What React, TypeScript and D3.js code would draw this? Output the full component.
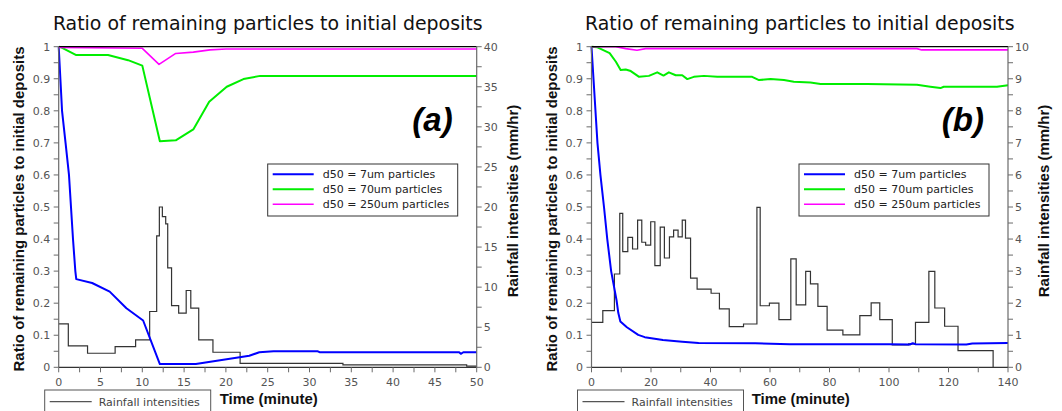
import React from "react";
import * as d3 from "d3";

// ---------- DATA ----------
const titleText = "Ratio of remaining particles to initial deposits";
const yLeftLabel = "Ratio of remaining particles to initial deposits";
const yRightLabel = "Rainfall intensities (mm/hr)";
const xLabel = "Time (minute)";
const seriesNames = ["d50 = 7um particles", "d50 = 70um particles", "d50 = 250um particles"];
const rainName = "Rainfall intensities";
const panelTags = ["(a)", "(b)"];

// Panel (a)
const a7x = [0, 0.2, 0.4, 0.82, 1.23, 1.47, 1.71, 1.99, 2.1, 4.0, 6.1, 8.1, 10.1, 12.1, 16.4, 22.8, 24.0, 25.7, 31.0, 31.2, 47.9, 48.1, 48.4, 50];
const a7y = [1, 0.9, 0.8, 0.7, 0.6, 0.5, 0.4, 0.3, 0.275, 0.263, 0.236, 0.184, 0.146, 0.01, 0.01, 0.036, 0.047, 0.05, 0.05, 0.047, 0.047, 0.042, 0.047, 0.047];
const a70x = [0, 0.3, 2.1, 5.9, 8.3, 10.0, 12.1, 14.0, 16.1, 18.0, 20.1, 22.1, 24.1, 50];
const a70y = [1, 0.998, 0.974, 0.974, 0.958, 0.941, 0.705, 0.708, 0.742, 0.828, 0.875, 0.899, 0.909, 0.909];
const a250x = [0, 10.0, 12.0, 14.0, 16.1, 18.1, 20, 50];
const a250y = [0.998, 0.995, 0.945, 0.979, 0.983, 0.99, 0.993, 0.993];
const aRainX = [0, 1.15, 3.45, 6.75, 9.2, 10.88, 11.72, 12.04, 12.4, 12.8, 13.04, 13.5, 14.35, 15.25, 15.8, 16.75, 18.45, 21.7, 34.0, 48.8, 50];
const aRainV = [5.42, 2.67, 1.75, 2.58, 3.42, 6.96, 16.4, 20.0, 18.8, 17.9, 12.4, 7.7, 6.75, 9.58, 7.38, 3.42, 1.88, 0.5, 0.3, 0.15, 0.15];

// Panel (b)
const b7x = [0, 0.67, 2, 3, 4.2, 5.3, 6.6, 7.6, 8.4, 9.0, 9.7, 11.9, 15.7, 17.9, 24, 30.5, 36, 55, 66.6, 100, 107, 108, 109, 126, 128, 140];
const b7y = [1, 0.9, 0.7, 0.6, 0.5, 0.4, 0.3, 0.25, 0.21, 0.17, 0.143, 0.125, 0.101, 0.094, 0.085, 0.08, 0.076, 0.075, 0.072, 0.072, 0.071, 0.075, 0.072, 0.071, 0.074, 0.076];
const b70x = [0, 2.0, 6.1, 8.2, 9.8, 11.5, 13.2, 16.0, 19.3, 22.1, 24.2, 26.0, 28.3, 30.5, 32.2, 34.4, 37.8, 42.3, 54.0, 56.3, 60.2, 64.7, 68.0, 73.6, 77.0, 92.6, 98.2, 109.4, 113.9, 117.3, 118.4, 136.3, 140];
const b70y = [1, 0.998, 0.98, 0.953, 0.927, 0.929, 0.924, 0.906, 0.909, 0.92, 0.91, 0.92, 0.911, 0.911, 0.899, 0.906, 0.909, 0.906, 0.906, 0.896, 0.899, 0.896, 0.891, 0.888, 0.884, 0.884, 0.883, 0.881, 0.875, 0.871, 0.875, 0.875, 0.88];
const b250x = [0, 8.2, 11.5, 15.3, 18.2, 109.4, 111, 140];
const b250y = [1, 1, 0.994, 0.989, 0.994, 0.994, 0.99, 0.99];
const bRainX = [0, 3.8, 7.7, 9.5, 10.5, 12.2, 13.8, 15.5, 16.9, 18.2, 19.9, 21.3, 23.1, 24.5, 26.2, 27.6, 29.1, 30.5, 31.6, 33.3, 35.5, 40.2, 43.0, 46.3, 51.1, 55.6, 56.7, 59.8, 63.0, 67.0, 68.8, 72.0, 73.6, 76.1, 79.2, 84.5, 90.2, 94.0, 96.9, 101.1, 106.6, 108.9, 113.4, 115.4, 118.7, 123.2, 135.0];
const bRainV = [1.40, 1.77, 2.91, 4.80, 3.61, 4.05, 3.69, 4.59, 3.90, 3.81, 4.54, 3.17, 4.37, 3.41, 4.07, 4.28, 4.07, 4.59, 4.03, 2.78, 2.44, 2.31, 1.82, 1.27, 1.35, 4.99, 1.92, 2.00, 1.49, 3.38, 1.95, 2.99, 2.60, 1.90, 1.16, 1.01, 1.61, 2.01, 1.49, 0.70, 0.73, 1.40, 2.99, 1.85, 1.28, 0.52, 0];

const seriesColors = ["#0000ff", "#00ee00", "#ff00ff"];
const seriesWidths = [2, 2, 1.6];

type Pt = [number, number];
const zip = (xs: number[], ys: number[]): Pt[] => xs.map((x, i) => [x, ys[i]] as Pt);

interface PanelProps {
  left: number;
  right: number;
  xMax: number;
  xMajor: number;
  xMinor: number;
  rMax: number;
  rMajor: number;
  rMinor: number;
  series: Pt[][];
  rain: Pt[];
  tag: string;
}

const TOP = 46.7;
const BOTTOM = 367.3;
const FONT = "'DejaVu Sans', Verdana, sans-serif";
const BOLD = "'Liberation Sans', Arial, sans-serif";

function Panel(p: PanelProps) {
  const x = d3.scaleLinear().domain([0, p.xMax]).range([p.left, p.right]);
  const y = d3.scaleLinear().domain([0, 1]).range([BOTTOM, TOP]);
  const yr = d3.scaleLinear().domain([0, p.rMax]).range([BOTTOM, TOP]);
  const line = d3.line<Pt>().x((d) => x(d[0])).y((d) => y(d[1]));
  const rainLine = d3.line<Pt>().x((d) => x(d[0])).y((d) => yr(d[1])).curve(d3.curveStepAfter);

  const xTicks = d3.range(0, p.xMax + 1e-9, p.xMinor);
  const yTicks = d3.range(0, 1 + 1e-9, 0.05);
  const rTicks = d3.range(0, p.rMax + 1e-9, p.rMinor);
  const isMul = (v: number, m: number) => Math.abs(v / m - Math.round(v / m)) < 1e-6;
  const yFmt = (v: number) => (v === 0 ? "0" : Math.abs(v - 1) < 1e-9 ? "1" : v.toFixed(1));
  const cx = (p.left + p.right) / 2;
  const cy = (TOP + BOTTOM) / 2;
  const axisCol = "#6a6a6a";
  const labCol = "#555";
  const tickLen = 5;

  const legW = 190;
  const legL = p.right - 19 - legW;
  const legT = 164;
  const rows = [174.3, 189.3, 204.2];

  const bL = p.left - 14;

  return (
    <g>
      <text x={cx} y={29.5} textAnchor="middle" fontFamily={FONT} fontSize={18.9} fill="#111">
        {titleText}
      </text>

      {/* rainfall */}
      <path d={rainLine(p.rain) || ""} fill="none" stroke="#333" strokeWidth={1.2} />

      {/* particle series */}
      {p.series.map((s, i) => (
        <path key={i} d={line(s) || ""} fill="none" stroke={seriesColors[i]} strokeWidth={seriesWidths[i]} strokeLinejoin="round" />
      ))}

      {/* frame */}
      <line x1={p.left} x2={p.right} y1={TOP} y2={TOP} stroke="#000" strokeWidth={1.2} />
      <line x1={p.left} x2={p.left} y1={TOP} y2={BOTTOM} stroke={axisCol} strokeWidth={1.2} />
      <line x1={p.right} x2={p.right} y1={TOP} y2={BOTTOM} stroke={axisCol} strokeWidth={1.2} />
      <line x1={p.left} x2={p.right} y1={BOTTOM} y2={BOTTOM} stroke="#333" strokeWidth={1.2} />

      {/* x ticks */}
      {xTicks.map((t) => (
        <g key={"x" + t}>
          <line x1={x(t)} x2={x(t)} y1={BOTTOM} y2={BOTTOM + tickLen} stroke={axisCol} />
          {isMul(t, p.xMajor) && (
            <text x={x(t)} y={385.5} textAnchor="middle" fontFamily={FONT} fontSize={11} fill={labCol}>
              {t}
            </text>
          )}
        </g>
      ))}

      {/* left y ticks */}
      {yTicks.map((t) => (
        <g key={"y" + t}>
          <line x1={p.left - tickLen} x2={p.left} y1={y(t)} y2={y(t)} stroke={axisCol} />
          {isMul(t, 0.1) && (
            <text x={p.left - 8.5} y={y(t) + 4} textAnchor="end" fontFamily={FONT} fontSize={11} fill={labCol}>
              {yFmt(t)}
            </text>
          )}
        </g>
      ))}

      {/* right y ticks */}
      {rTicks.map((t) => (
        <g key={"r" + t}>
          <line x1={p.right} x2={p.right + tickLen} y1={yr(t)} y2={yr(t)} stroke={axisCol} />
          {isMul(t, p.rMajor) && (
            <text x={p.right + 7} y={yr(t) + 4} textAnchor="start" fontFamily={FONT} fontSize={11} fill={labCol}>
              {t}
            </text>
          )}
        </g>
      ))}

      {/* axis titles */}
      <text
        transform={`translate(${p.left - 35},${cy + 2}) rotate(-90)`}
        textAnchor="middle"
        fontFamily={BOLD}
        fontWeight="bold"
        fontSize={15}
        fill="#111"
      >
        {yLeftLabel}
      </text>
      <text
        transform={`translate(${p.right + 41},${cy - 6}) rotate(-90)`}
        textAnchor="middle"
        fontFamily={BOLD}
        fontWeight="bold"
        fontSize={15}
        fill="#111"
      >
        {yRightLabel}
      </text>
      <text x={cx + 1} y={404} textAnchor="middle" fontFamily={BOLD} fontWeight="bold" fontSize={15} fill="#111">
        {xLabel}
      </text>

      {/* panel tag */}
      <text x={p.right - 24} y={131} textAnchor="end" fontFamily={BOLD} fontWeight="bold" fontStyle="italic" fontSize={33} fill="#000">
        {p.tag}
      </text>

      {/* main legend */}
      <rect x={legL} y={legT} width={legW} height={52} fill="#fff" stroke="#333" strokeWidth={1} />
      {seriesNames.map((n, i) => (
        <g key={n}>
          <line x1={legL + 5} x2={legL + 46} y1={rows[i]} y2={rows[i]} stroke={seriesColors[i]} strokeWidth={seriesWidths[i]} />
          <text x={legL + 55} y={rows[i] + 4} fontFamily={FONT} fontSize={11} fill="#222">
            {n}
          </text>
        </g>
      ))}

      {/* rainfall legend */}
      <rect x={bL} y={390} width={166} height={30} fill="#fff" stroke="#555" strokeWidth={1} />
      <line x1={bL + 5} x2={bL + 47} y1={401.7} y2={401.7} stroke="#555" strokeWidth={1.2} />
      <text x={bL + 54} y={405.7} fontFamily={FONT} fontSize={11} fill="#444">
        {rainName}
      </text>
    </g>
  );
}

export default function App() {
  return (
    <svg
      width={1062}
      height={411}
      style={{ position: "absolute", left: 0, top: 0, background: "#fff" }}
    >
      <rect x={0} y={0} width={1062} height={411} fill="#fff" />
      <Panel
        left={58.7}
        right={476.7}
        xMax={50}
        xMajor={5}
        xMinor={2.5}
        rMax={40}
        rMajor={5}
        rMinor={2.5}
        series={[zip(a7x, a7y), zip(a70x, a70y), zip(a250x, a250y)]}
        rain={zip(aRainX, aRainV)}
        tag={panelTags[0]}
      />
      <Panel
        left={591.5}
        right={1008}
        xMax={140}
        xMajor={20}
        xMinor={10}
        rMax={10}
        rMajor={1}
        rMinor={0.5}
        series={[zip(b7x, b7y), zip(b70x, b70y), zip(b250x, b250y)]}
        rain={zip(bRainX, bRainV)}
        tag={panelTags[1]}
      />
    </svg>
  );
}
